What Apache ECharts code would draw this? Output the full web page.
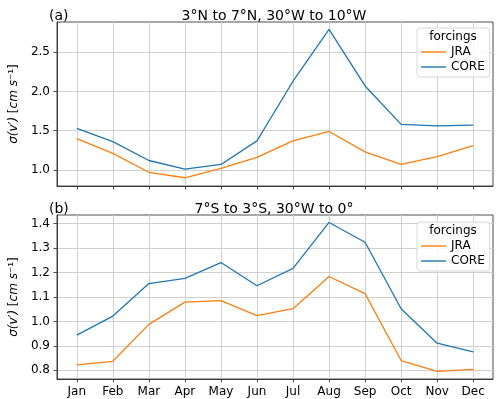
<!DOCTYPE html>
<html>
<head>
<meta charset="utf-8">
<script src="https://cdn.jsdelivr.net/npm/echarts@6/dist/echarts.min.js"></script>
<style>
html,body{margin:0;padding:0;background:#fff;}
#graphic{width:500px;height:399px;}
</style>
</head>
<body>
<div id="graphic"></div>
<script>
// 月份
var months = ['Jan','Feb','Mar','Apr','May','Jun','Jul','Aug','Sep','Oct','Nov','Dec'];
// (a) 3°N to 7°N
var jraA  = [1.40, 1.21, 0.97, 0.90, 1.02, 1.16, 1.37, 1.49, 1.23, 1.07, 1.17, 1.31];
var coreA = [1.53, 1.36, 1.12, 1.01, 1.07, 1.37, 2.13, 2.79, 2.07, 1.58, 1.56, 1.57];
// (b) 7°S to 3°S
var jraB  = [0.822, 0.837, 0.988, 1.079, 1.085, 1.024, 1.052, 1.184, 1.114, 0.840, 0.796, 0.804];
var coreB = [0.944, 1.022, 1.155, 1.176, 1.241, 1.146, 1.217, 1.405, 1.324, 1.052, 0.911, 0.875];
// 刻度
var ticksA = [1.0, 1.5, 2.0, 2.5];
var ticksB = [0.8, 0.9, 1.0, 1.1, 1.2, 1.3, 1.4];
var monthIdx = [0,1,2,3,4,5,6,7,8,9,10,11];

var C_JRA = '#ff7f0e', C_CORE = '#1f77b4';
var FONT = 'DejaVu Sans';
var SPINE = '#222';

function pairs(arr){
    var ret = [];
    for(var i=0; i<arr.length; i++) ret.push([i, arr[i]]);
    return ret;
}

function xAxisOpt(idx, showLabel){
    return {
        type:'value', gridIndex:idx, min:-0.55, max:11.55,
        axisLine:{show:true, onZero:false, lineStyle:{color:SPINE, width:0.8}},
        axisTick:{show:true, inside:false, length:3.5, customValues:monthIdx, lineStyle:{color:SPINE, width:0.8}},
        axisLabel:{show:showLabel, customValues:monthIdx, margin:7, color:'#000', fontSize:12, fontFamily:FONT,
            formatter:function(v){ return months[Math.round(v)] || ''; }},
        splitLine:{show:true, lineStyle:{color:'#d0d0d0', width:1}}
    };
}

function yAxisOpt(idx, mn, mx, ticks, digits){
    return {
        type:'value', gridIndex:idx, min:mn, max:mx,
        name:'{i|σ(v}{n|′}{i|)} {n|[}{i|cm s}{n|⁻¹]}', nameLocation:'middle', nameGap:33,
        nameTextStyle:{fontSize:12, fontFamily:FONT, color:'#000',
            rich:{i:{fontSize:12, fontFamily:FONT, fontStyle:'italic', color:'#000'},
                  n:{fontSize:12, fontFamily:FONT, color:'#000'}}},
        axisLine:{show:true, onZero:false, lineStyle:{color:SPINE, width:0.8}},
        axisTick:{show:true, length:3.5, customValues:ticks, lineStyle:{color:SPINE, width:0.8}},
        axisLabel:{customValues:ticks, margin:7, color:'#000', fontSize:12, fontFamily:FONT,
            formatter:function(v){ return v.toFixed(digits); }},
        splitLine:{show:true, lineStyle:{color:'#d0d0d0', width:1}}
    };
}

function legendOpt(top){
    return {
        orient:'vertical', left:417, top:top, data:['JRA','CORE'],
        icon:'path://M0,0 L25,0 L25,1.4 L0,1.4 Z',
        itemWidth:25, itemHeight:14, itemGap:3,
        padding:[18, 5, 4, 4],
        borderColor:'#d8d8d8', borderWidth:1, borderRadius:3,
        backgroundColor:'rgba(255,255,255,0.85)',
        textStyle:{fontSize:12, fontFamily:FONT, color:'#000'}
    };
}

function lineSeries(name, data, color, idx){
    return {
        name:name, type:'line', xAxisIndex:idx, yAxisIndex:idx,
        data:pairs(data), showSymbol:false, symbol:'none', animation:false,
        lineStyle:{color:color, width:1.3}, itemStyle:{color:color}
    };
}

function titleOpt(text, top, left, align){
    return {text:text, left:left, textAlign:align, top:top,
        textStyle:{fontSize:14, fontWeight:'normal', color:'#000', fontFamily:FONT}};
}

var option = {
    animation:false,
    textStyle:{fontFamily:FONT},
    title:[
        titleOpt('3°N to 7°N, 30°W to 10°W', 4, 269, 'center'),
        titleOpt('(a)', 4, 44, 'left'),
        titleOpt('7°S to 3°S, 30°W to 0°', 197, 269, 'center'),
        titleOpt('(b)', 197, 44, 'left')
    ],
    legend:[legendOpt(28), legendOpt(222)],
    graphic:[
        {type:'text', x:453, y:37, z:100,
            style:{text:'forcings', textAlign:'center', textVerticalAlign:'middle', fontSize:12, fontFamily:FONT, fill:'#000'}},
        {type:'text', x:453, y:231, z:100,
            style:{text:'forcings', textAlign:'center', textVerticalAlign:'middle', fontSize:12, fontFamily:FONT, fill:'#000'}}
    ],
    grid:[
        {left:45, right:7, top:22, height:164, show:true, borderColor:SPINE, borderWidth:0.8},
        {left:45, right:7, top:215, height:164, show:true, borderColor:SPINE, borderWidth:0.8}
    ],
    xAxis:[xAxisOpt(0, false), xAxisOpt(1, true)],
    yAxis:[yAxisOpt(0, 0.795, 2.885, ticksA, 1), yAxisOpt(1, 0.7645, 1.4355, ticksB, 1)],
    series:[
        lineSeries('JRA', jraA, C_JRA, 0),
        lineSeries('CORE', coreA, C_CORE, 0),
        lineSeries('JRA', jraB, C_JRA, 1),
        lineSeries('CORE', coreB, C_CORE, 1)
    ]
};

var graphic = echarts.init(document.getElementById('graphic'), null, {renderer:'canvas'});
graphic.setOption(option);
</script>
</body>
</html>
